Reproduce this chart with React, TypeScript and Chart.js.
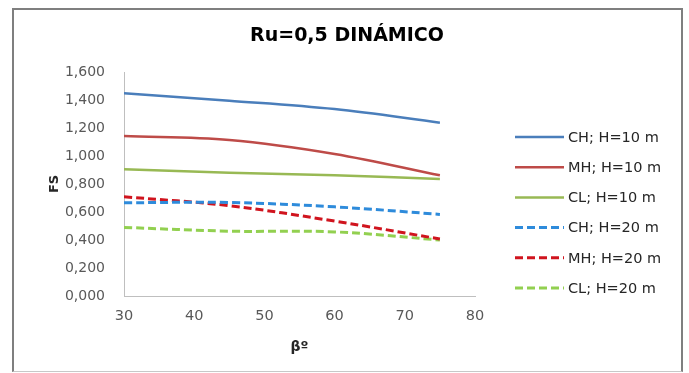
import React, { useEffect, useRef } from "react";
import { Chart, registerables } from "chart.js";

Chart.register(...registerables);

const TITLE = "Ru=0,5 DINÁMICO";
const X_TITLE = "βº";
const Y_TITLE = "FS";
const BETA = [30, 45, 60, 75];
const SERIES_NAMES = ["CH; H=10 m", "MH; H=10 m", "CL; H=10 m", "CH; H=20 m", "MH; H=20 m", "CL; H=20 m"];
const CH_10 = [1.448, 1.395, 1.335, 1.238];
const MH_10 = [1.143, 1.115, 1.015, 0.862];
const CL_10 = [0.905, 0.88, 0.862, 0.836];
const CH_20 = [0.666, 0.668, 0.637, 0.583];
const MH_20 = [0.709, 0.645, 0.535, 0.407];
const CL_20 = [0.49, 0.463, 0.458, 0.4];
const COLORS = ["#4A7EBB", "#BE4B48", "#98B954", "#2E8BDB", "#D0141E", "#92D050"];
const DASHED = [false, false, false, true, true, true];

const FONT = "'DejaVu Sans', sans-serif";

const sideLegend = {
  id: "sideLegend",
  afterDraw(chart: any) {
    const ctx = chart.ctx as CanvasRenderingContext2D;
    const { right, top } = chart.chartArea;
    const x0 = right + 40;
    let y = top + 65;
    chart.data.datasets.forEach((ds: any) => {
      ctx.save();
      ctx.strokeStyle = ds.borderColor;
      ctx.lineWidth = ds.borderWidth;
      ctx.setLineDash(ds.borderDash || []);
      ctx.beginPath();
      ctx.moveTo(x0, y);
      ctx.lineTo(x0 + 49, y);
      ctx.stroke();
      ctx.restore();
      ctx.save();
      ctx.fillStyle = "#262626";
      ctx.font = `14.5px ${FONT}`;
      ctx.textBaseline = "middle";
      ctx.textAlign = "left";
      ctx.fillText(ds.label, x0 + 53, y + 1);
      ctx.restore();
      y += 30.2;
    });
  },
};

export default function App() {
  const ref = useRef<HTMLCanvasElement | null>(null);

  useEffect(() => {
    document.body.style.margin = "0";
    const values = [CH_10, MH_10, CL_10, CH_20, MH_20, CL_20];
    const datasets = values.map((vals, i) => ({
      label: SERIES_NAMES[i],
      data: vals.map((v, j) => ({ x: BETA[j], y: v })),
      borderColor: COLORS[i],
      backgroundColor: COLORS[i],
      borderWidth: DASHED[i] ? 3 : 2.5,
      borderDash: DASHED[i] ? [8, 4] : [],
      pointRadius: 0,
      tension: 0.35,
      fill: false,
    }));
    const chart = new Chart(ref.current as HTMLCanvasElement, {
      type: "line",
      data: { datasets },
      plugins: [sideLegend],
      options: {
        animation: false,
        responsive: false,
        devicePixelRatio: 1,
        layout: { padding: { left: 15, right: 10, top: 0, bottom: 0 } },
        plugins: {
          title: {
            display: true,
            text: TITLE,
            color: "#000",
            font: { family: FONT, size: 19, weight: "bold" },
            padding: { top: 24.6, bottom: 24.6 },
          },
          legend: { display: false },
          tooltip: { enabled: false },
        },
        scales: {
          x: {
            type: "linear",
            position: "bottom",
            min: 30,
            max: 80,
            afterFit: (s: any) => { s.height = 77; },
            ticks: { stepSize: 10, padding: 12, color: "#595959", font: { family: FONT, size: 14.5 } },
            grid: { display: true, drawOnChartArea: false, drawTicks: false },
            border: { display: true, color: "#BFBFBF", width: 1 },
            title: { display: true, text: X_TITLE, color: "#262626", font: { family: FONT, size: 14, weight: "bold" }, padding: { top: 0, bottom: 17 } },
          },
          y: {
            position: "left",
            min: 0,
            max: 1.6,
            afterFit: (s: any) => { s.width = 109; },
            ticks: {
              stepSize: 0.2,
              padding: 19,
              color: "#595959",
              font: { family: FONT, size: 14 },
              callback: (v: any) => Number(v).toFixed(3).replace(".", ","),
            },
            grid: { display: true, drawOnChartArea: false, drawTicks: false },
            border: { display: true, color: "#BFBFBF", width: 1 },
            title: { display: true, text: Y_TITLE, color: "#262626", font: { family: FONT, size: 13, weight: "bold" }, padding: { top: 32, bottom: 0 } },
          },
          legendSpace: {
            type: "linear",
            position: "right",
            display: true,
            afterFit: (s: any) => { s.width = 204; },
            ticks: { display: false },
            grid: { display: false },
            border: { display: false },
          },
        },
      },
    } as any);
    return () => chart.destroy();
  }, []);

  return (
    <div style={{ position: "relative", width: 689, height: 373, background: "#fff" }}>
      <canvas ref={ref} width={689} height={373} style={{ display: "block" }} />
      <div
        style={{
          position: "absolute",
          left: 12,
          top: 8,
          width: 667,
          height: 361,
          borderLeft: "2px solid #7f7f7f",
          borderTop: "2px solid #7f7f7f",
          borderRight: "2px solid #7f7f7f",
          borderBottom: "1px solid #c8c8c8",
          pointerEvents: "none",
        }}
      />
    </div>
  );
}
